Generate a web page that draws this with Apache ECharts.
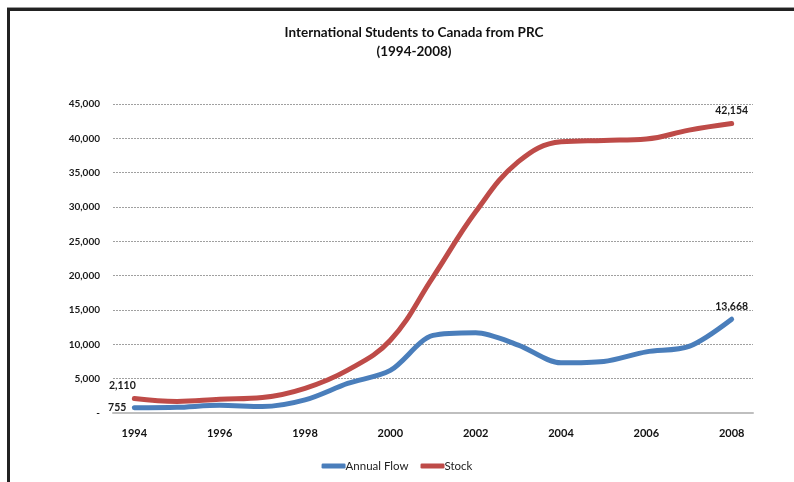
<!DOCTYPE html>
<html>
<head>
<meta charset="utf-8">
<script src="https://cdn.jsdelivr.net/npm/echarts@6/dist/echarts.min.js"></script>
<style>html,body{margin:0;padding:0;background:#fff;}#c{width:794px;height:482px;}</style>
</head>
<body>
<div id="c"></div>
<script>
const years = ['1994','1995','1996','1997','1998','1999','2000','2001','2002','2003','2004','2005','2006','2007','2008'];
const annualFlow = [755, 820, 1120, 930, 1900, 4300, 6200, 11300, 11700, 9900, 7300, 7500, 8900, 9700, 13668];
const stock = [2110, 1680, 2000, 2250, 3600, 6250, 10600, 19800, 29300, 36600, 39500, 39700, 39900, 41200, 42154];
const yTicks = [0, 5000, 10000, 15000, 20000, 25000, 30000, 35000, 40000, 45000];

const fmt = v => v === 0 ? '-' : v.toLocaleString('en-US');
const labelFont = {fontFamily: 'Lato', fontWeight: 'bold', fontSize: 10.5, color: '#1a1a1a'};

function withEndLabels(arr, firstPos, lastPos) {
  return arr.map((v, i) => {
    if (i === 0) return {value: v, label: Object.assign({show: true, formatter: fmt(v)}, firstPos, labelFont)};
    if (i === arr.length - 1) return {value: v, label: Object.assign({show: true, formatter: fmt(v)}, lastPos, labelFont)};
    return v;
  });
}

const chart = echarts.init(document.getElementById('c'));
chart.setOption({
  animation: false,
  backgroundColor: '#fff',
  title: {
    text: 'International Students to Canada from PRC\n(1994-2008)',
    left: 409, textAlign: 'center', top: 18,
    textStyle: {fontFamily: 'Lato', fontWeight: 'bold', fontSize: 13.5, lineHeight: 19, color: '#111'}
  },
  legend: {
    bottom: 5, left: 'center',
    itemWidth: 24, itemHeight: 5, itemGap: 12,
    icon: 'roundRect',
    textStyle: {fontFamily: 'Lato', fontSize: 11.5, color: '#222', padding: [0, 0, 0, -5]},
    data: ['Annual Flow', 'Stock']
  },
  grid: {left: 113, right: 41, top: 104, bottom: 69},
  xAxis: {
    type: 'category', data: years, boundaryGap: true,
    axisLine: {lineStyle: {color: '#bfbfbf', width: 2}},
    axisTick: {show: false},
    axisLabel: {interval: 1, margin: 15, fontFamily: 'Lato', fontWeight: 'bold', fontSize: 11, color: '#111'}
  },
  yAxis: {
    type: 'value', min: yTicks[0], max: yTicks[yTicks.length - 1], interval: 5000,
    axisLine: {show: false}, axisTick: {show: false},
    axisLabel: {margin: 13, fontFamily: 'Lato', fontWeight: 'bold', fontSize: 10, color: '#1a1a1a', formatter: fmt},
    splitLine: {lineStyle: {color: '#a0a0a0', type: [2, 1], width: 1}}
  },
  series: [
    {
      name: 'Annual Flow', type: 'line', smooth: 0.3, symbol: 'circle', symbolSize: 0, showSymbol: true,
      lineStyle: {width: 5, color: '#4a7ebb', cap: 'round'},
      itemStyle: {color: '#4a7ebb'},
      data: withEndLabels(annualFlow, {position: 'left', distance: 8}, {position: 'top', distance: 7})
    },
    {
      name: 'Stock', type: 'line', smooth: 0.4, symbol: 'circle', symbolSize: 0, showSymbol: true,
      lineStyle: {width: 5, color: '#be4b48', cap: 'round'},
      itemStyle: {color: '#be4b48'},
      data: withEndLabels(stock, {position: 'top', distance: 7, offset: [-12, 0]}, {position: 'top', distance: 7})
    }
  ],
  graphic: [
    {type: 'rect', shape: {x: 7, y: 7, width: 787, height: 1}, style: {fill: '#9a9a9a'}, silent: true},
    {type: 'rect', shape: {x: 7, y: 8, width: 787, height: 3}, style: {fill: '#222'}, silent: true},
    {type: 'rect', shape: {x: 7, y: 8, width: 3, height: 474}, style: {fill: '#222'}, silent: true}
  ]
});
</script>
</body>
</html>
